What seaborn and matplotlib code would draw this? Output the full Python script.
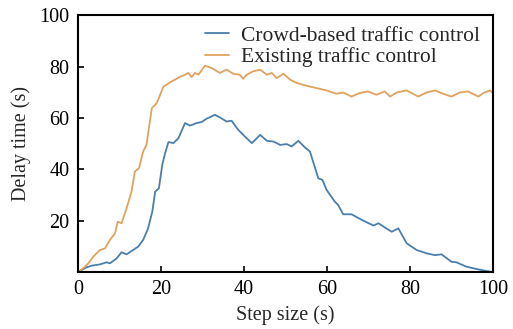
import matplotlib
matplotlib.use("Agg")
import matplotlib.pyplot as plt
import pandas as pd
import seaborn as sns

sns.set_theme(style="ticks")
plt.rcParams["font.family"] = ["Liberation Serif", "DejaVu Serif"]

existing_x = [0, 1.5, 2.5, 3.7, 5.3, 6.5, 7.7, 8.9, 9.6, 10.5, 11.7, 12.9, 13.7, 14.7, 15.7, 16.5,
              17.8, 19, 20.6, 22.6, 24.6, 25.8, 26.6, 27.4, 28.2, 29, 30.6, 32.2, 34.2, 35.8, 37.4,
              39, 39.8, 40.6, 42.2, 43.9, 45.5, 46.7, 47.9, 49.5, 51.1, 52.7, 55.1, 57.5, 59.9,
              62.3, 63.9, 65.9, 67.9, 69.9, 71.9, 73.9, 75.2, 76.8, 79.2, 82, 84, 86, 88, 90, 92,
              94, 96.5, 97.7, 99.3, 100]
existing_y = [0, 1.8, 3.4, 6, 8.6, 9.2, 12.5, 15, 19.6, 19, 24.8, 31.3, 39.1, 40.4, 46.9, 49.5,
              63.8, 65.8, 72.2, 74.2, 76, 76.8, 77.5, 75.9, 77.5, 76.8, 80.3, 79.4, 77.5, 78.8, 77.2,
              76.8, 75.2, 76.8, 78.1, 78.8, 76.8, 77.5, 75.5, 77.2, 74.9, 73.6, 72.5, 71.6, 70.7,
              69.4, 69.9, 68.3, 69.7, 70.3, 69, 70.3, 68.3, 69.9, 70.7, 68.3, 69.9, 70.7, 69.4, 68.3, 69.9,
              70.3, 68.3, 69.7, 70.7, 69.7]

crowd_x = [0, 2, 3.3, 5.3, 6.9, 7.7, 9.3, 10.5, 11.7, 13.3, 14.5, 15.7, 16.9, 17.9, 18.6, 19.5,
           20.3, 21, 21.8, 23, 24.2, 25.8, 27, 28.6, 29.8, 31, 33, 34.2, 35.8, 37, 38.6, 40.2,
           41.9, 43.9, 45.5, 47.1, 48.7, 50.3, 51.5, 53.1, 54.7, 55.9, 57.9, 58.9, 59.9, 61.9,
           62.7, 63.9, 65.9, 68.4, 71.2, 72.4, 74, 75.6, 77.2, 79.2, 81.6, 84, 86, 87.6, 90,
           91.2, 93.6, 96, 98.5, 100]
crowd_y = [0, 1.8, 2.5, 3, 3.8, 3.4, 5.3, 7.7, 6.9, 8.6, 9.9, 12.5, 17, 23.5, 31.3, 32.6,
           41.7, 46.3, 50.6, 50.2, 52.1, 58, 57, 58, 58.4, 59.7, 61.2, 60.2, 58.6, 58.9, 55.4, 52.8,
           50.2, 53.4, 51.1, 50.8, 49.5, 49.8, 48.9, 51.1, 48.5, 46.9, 36.5, 35.9, 32, 27.4,
           26.1, 22.5, 22.5, 20.3, 18.1, 19, 17.3, 15.7, 17, 11.2, 8.6, 7.3, 6.6, 6.9, 4,
           3.8, 2.1, 1.2, 0.4, 0]

crowd = pd.DataFrame({"step": crowd_x, "delay": crowd_y})
existing = pd.DataFrame({"step": existing_x, "delay": existing_y})

fig = plt.figure(figsize=(5.13, 3.29), dpi=100)
ax = fig.add_axes([0.152, 0.173, 0.809, 0.781])

sns.lineplot(data=crowd, x="step", y="delay", ax=ax, color="#4a7eab", linewidth=1.3,
             label="Crowd-based traffic control", sort=False)
sns.lineplot(data=existing, x="step", y="delay", ax=ax, color="#e0a25e", linewidth=1.3,
             label="Existing traffic control", sort=False)

ax.set_xlim(0, 100)
ax.set_ylim(0, 100)
ax.set_xticks([0, 20, 40, 60, 80, 100])
ax.set_yticks([20, 40, 60, 80, 100])
ax.tick_params(direction="in", length=4, width=1.2, labelsize=14.5, colors="black", pad=6)
for s in ax.spines.values():
    s.set_linewidth(1.5)
    s.set_color("black")
ax.set_xlabel("Step size (s)", fontsize=14.5, labelpad=4)
ax.set_ylabel("Delay time (s)", fontsize=14.5, labelpad=6)

ax.legend(loc="upper right", frameon=False, fontsize=15.5, handlelength=1.15,
          handletextpad=0.55, borderaxespad=0.1, labelspacing=0.05,
          bbox_to_anchor=(0.995, 1.0))

fig.savefig("out.png", dpi=100)
